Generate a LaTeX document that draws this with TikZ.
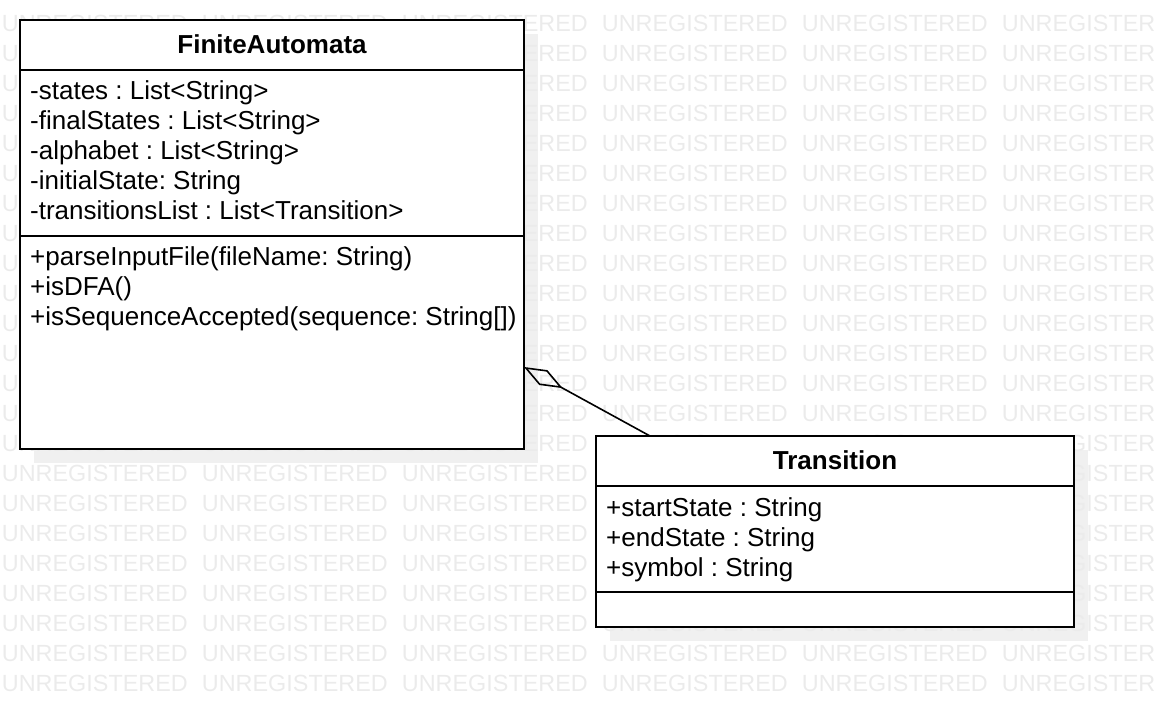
\documentclass[tikz,border=0pt]{standalone}
\usepackage{fontspec}
\setmainfont{Liberation Sans}
\usetikzlibrary{arrows.meta,calc}
\frenchspacing
\pgfdeclarelayer{shadow}
\pgfdeclarelayer{watermark}
\pgfsetlayers{shadow,watermark,main}
\definecolor{shadowgray}{HTML}{F0F0F0}
\definecolor{wmgray}{HTML}{EBEBEB}
\tikzset{
  classbox/.style={draw=black, line width=2pt, fill=white, rectangle,
    inner sep=0pt, outer sep=0pt, anchor=north west},
  member/.style={anchor=base west, inner sep=0pt, font=\fontsize{26}{30}\selectfont},
  classname/.style={anchor=base, inner sep=0pt, font=\fontsize{26}{30}\selectfont\bfseries},
  wmtext/.style={anchor=west, inner sep=0pt, text=wmgray, font=\fontsize{23.4}{28}\selectfont},
  compline/.style={line width=2pt},
  boxshadow/.style={fill=shadowgray},
  aggregation/.style={line width=1.6pt,
    -{Diamond[open, length=44pt, width=17pt, line join=miter]}},
}
\begin{document}
\begin{tikzpicture}[x=1pt, y=-1pt]
\useasboundingbox (0,0) rectangle (1154,708);

% class FiniteAutomata
\node[classbox, minimum width=504pt, minimum height=429pt] (fa) at (20,20) {};
\draw[compline] ($(fa.north west)+(0,50)$) -- ($(fa.north east)+(0,50)$);
\draw[compline] ($(fa.north west)+(0,216)$) -- ($(fa.north east)+(0,216)$);
\node[classname] (fa-name) at ($(fa.north)+(0,34)$) {FiniteAutomata};
\node[member] (fa-a1) at ($(fa.north west)+(10,80)$)  {-states : List<String>};
\node[member] (fa-a2) at ($(fa.north west)+(10,110)$) {-finalStates : List<String>};
\node[member] (fa-a3) at ($(fa.north west)+(10,140)$) {-alphabet : List<String>};
\node[member] (fa-a4) at ($(fa.north west)+(10,170)$) {-initialState: String};
\node[member] (fa-a5) at ($(fa.north west)+(10,200)$) {-transitionsList : List<Transition>};
\node[member] (fa-o1) at ($(fa.north west)+(10,246)$) {+parseInputFile(fileName: String)};
\node[member] (fa-o2) at ($(fa.north west)+(10,276)$) {+isDFA()};
\node[member] (fa-o3) at ($(fa.north west)+(10,306)$) {+isSequenceAccepted(sequence: String[])};

% class Transition
\node[classbox, minimum width=478pt, minimum height=191pt] (tr) at (596,436) {};
\draw[compline] ($(tr.north west)+(0,50)$) -- ($(tr.north east)+(0,50)$);
\draw[compline] ($(tr.north west)+(0,156)$) -- ($(tr.north east)+(0,156)$);
\node[classname] (tr-name) at ($(tr.north)+(0,33)$) {Transition};
\node[member] (tr-a1) at ($(tr.north west)+(10,80)$)  {+startState : String};
\node[member] (tr-a2) at ($(tr.north west)+(10,110)$) {+endState : String};
\node[member] (tr-a3) at ($(tr.north west)+(10,140)$) {+symbol : String};

% aggregation: Transition is part of FiniteAutomata
\coordinate (tr-join) at ($(tr.north west)+(54,0)$);
\coordinate (fa-join) at ($(fa.north east)+(0,347)$);
\draw[aggregation] (tr-join) -- (fa-join);

% drop shadows
\begin{pgfonlayer}{shadow}
  \fill[boxshadow] ($(fa.north west)+(14,14)$) rectangle ($(fa.south east)+(14,14)$);
  \fill[boxshadow] ($(tr.north west)+(14,14)$) rectangle ($(tr.south east)+(14,14)$);
\end{pgfonlayer}

% background watermark (words wholly covered by a class box are skipped)
\begin{pgfonlayer}{watermark}
  \begin{scope}
    \clip (0,0) rectangle (1154,708);
    \foreach \r in {0,...,22}{
      \foreach \c in {0,...,5}{
        \pgfmathtruncatemacro\hidden{(\c==1 && \r>0 && \r<14) || ((\c==3 || \c==4) && \r>14 && \r<20)}
        \ifnum\hidden=0
          \node[wmtext] (wm-\r-\c) at ({1.7+200*\c},{23+30*\r}) {UNREGISTERED};
        \fi
      }
    }
  \end{scope}
\end{pgfonlayer}
\end{tikzpicture}
\end{document}
